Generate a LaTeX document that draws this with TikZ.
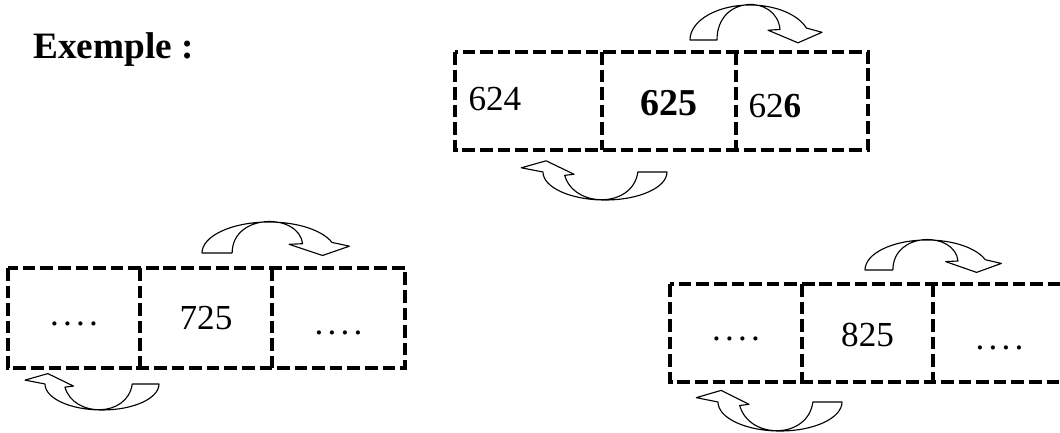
\documentclass[tikz,border=0pt]{standalone}
\usepackage{fontspec}
\setmainfont{Liberation Serif}
\usetikzlibrary{positioning}
\newcommand{\fourdots}{.\kern3pt.\kern3pt.\kern3pt.}
\tikzset{
  cell/.style = {minimum height=2.45cm, inner sep=0pt, outer sep=0pt},
  dashline/.style = {line width=2.4pt, dash pattern=on 9pt off 3.5pt},
  num/.style = {font=\fontsize{25}{30}\selectfont, inner sep=0pt},
  arrowline/.style = {line width=0.8pt, fill=white, line join=round},
  % curved arrow over the cells, head on the right
  pics/overarrow/.style = {code = {
    \draw[arrowline] (-1,0) arc[start angle=180, end angle=20, radius=1]
      -- (1.2,0.22) -- (0.8,-0.08) -- (0.3,0.28) -- (0.5,0.3)
      .. controls (0.45,1.3) and (-0.55,1.3) .. (-0.55,0) -- cycle;
  }},
  % curved arrow under the cells, head on the left
  pics/underarrow/.style = {code = {
    \draw[arrowline] (1,0) arc[start angle=0, end angle=-180, radius=1]
      -- (-1.35,0.15) -- (-0.95,0.4) -- (-0.5,-0.08) -- (-0.65,-0.12)
      .. controls (-0.5,-1.3) and (0.45,-1.3) .. (0.53,0) -- cycle;
  }}
}
\begin{document}
\begin{tikzpicture}[x=0.025cm, y=0.025cm]
\path[use as bounding box, clip] (0,0) rectangle (1060,-433);
\node[num, font=\fontsize{26.5}{30}\selectfont\bfseries, anchor=base west] (ex) at (33,-59) {Exemple :};

% top group
\node[cell, minimum width=3.675cm] (a1) at (528.5,-101) {};
\node[cell, minimum width=3.35cm, right=0pt of a1] (a2) {};
\node[cell, minimum width=3.3cm, right=0pt of a2] (a3) {};
\draw[dashline] (a1.north west) rectangle (a3.south east);
\draw[dashline] (a1.north east) -- (a1.south east);
\draw[dashline] (a2.north east) -- (a2.south east);
\node[num] (t624) at ([xshift=-0.84cm, yshift=0.05cm]a1.center) {624};
\node[num, font=\fontsize{27}{30}\selectfont\bfseries] (t625) at ([yshift=-0.05cm]a2.center) {625};
\node[num] (t626) at ([xshift=-0.68cm, yshift=-0.12cm]a3.center) {62{\bfseries 6}};
\pic (up1) at (750,-40) [xscale=60, yscale=35] {overarrow};
\pic (dn1) at (605,-172) [xscale=62, yscale=28] {underarrow};

% bottom left group
\node[cell, minimum width=3.3cm, minimum height=2.5cm] (b1) at (74,-318) {};
\node[cell, minimum width=3.3cm, minimum height=2.5cm, right=0pt of b1] (b2) {};
\node[cell, minimum width=3.325cm, minimum height=2.5cm, right=0pt of b2] (b3) {};
\draw[dashline] (b1.north west) rectangle (b3.south east);
\draw[dashline] (b1.north east) -- (b1.south east);
\draw[dashline] (b2.north east) -- (b2.south east);
\node[num] (db1) at ([yshift=-0.15cm]b1.center) {\fourdots};
\node[num] (t725) at (b2.center) {725};
\node[num] (db3) at ([yshift=-0.37cm]b3.center) {\fourdots};
\pic (up2) at (269,-253) [xscale=67, yscale=31] {overarrow};
\pic (dn2) at (102,-384) [xscale=57, yscale=26] {underarrow};

% bottom right group
\node[cell, minimum width=3.3cm] (c1) at (736,-333) {};
\node[cell, minimum width=3.275cm, right=0pt of c1] (c2) {};
\node[cell, minimum width=3.325cm, right=0pt of c2] (c3) {};
\draw[dashline] (c1.north west) rectangle (c3.south east);
\draw[dashline] (c1.north east) -- (c1.south east);
\draw[dashline] (c2.north east) -- (c2.south east);
\node[num] (dc1) at ([yshift=-0.15cm]c1.center) {\fourdots};
\node[num] (t825) at ([yshift=-0.05cm]c2.center) {825};
\node[num] (dc3) at ([yshift=-0.37cm]c3.center) {\fourdots};
\pic (up3) at (927,-270) [xscale=62, yscale=30] {overarrow};
\pic (dn3) at (780,-402) [xscale=62, yscale=29] {underarrow};
\end{tikzpicture}
\end{document}
